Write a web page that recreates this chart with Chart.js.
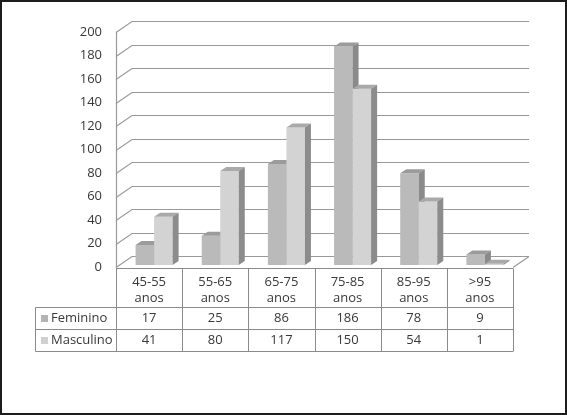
<!DOCTYPE html>
<html>
<head>
<meta charset="utf-8">
<script src="https://cdn.jsdelivr.net/npm/chart.js@4.4.1/dist/chart.umd.min.js"></script>
<style>
    html, body { margin: 0; padding: 0; background: #fff; }
    #frame { position: absolute; left: 0; top: 0; width: 567px; height: 415px; box-sizing: border-box; border: 2px solid #1c1c1c; pointer-events: none; }
    canvas { position: absolute; left: 0; top: 0; }
</style>
</head>
<body>
<canvas id="idade-chart" width="567" height="415"></canvas>
<div id="frame"></div>
<script>
const categorias = [
    ['45-55', 'anos'],
    ['55-65', 'anos'],
    ['65-75', 'anos'],
    ['75-85', 'anos'],
    ['85-95', 'anos'],
    ['>95', 'anos'],
];
const feminino = [17, 25, 86, 186, 78, 9];
const masculino = [41, 80, 117, 150, 54, 1];
const yTicks = [0, 20, 40, 60, 80, 100, 120, 140, 160, 180, 200];

const palette = {
    feminino: { front: '#bababa', top: '#9b9b9b', side: '#8a8a8a', key: '#b3b3b3' },
    masculino: { front: '#d3d3d3', top: '#a9a9a9', side: '#8c8c8c', key: '#d0d0d0' },
    grid: '#999999',
    table: '#8a8a8a',
    text: '#383838',
};

const font = "'Open Sans', 'DejaVu Sans', sans-serif";

// 3d offsets
const wall = { dx: 16, dy: -11 };
const barDepth = { dx: 6, dy: -4 };
const barShift = { x: 5, y: -2 };

function poly(ctx, pts, fill) {
    ctx.beginPath();
    ctx.moveTo(pts[0][0], pts[0][1]);
    for (let i = 1; i < pts.length; i++) ctx.lineTo(pts[i][0], pts[i][1]);
    ctx.closePath();
    ctx.fillStyle = fill;
    ctx.fill();
}

const depthPlugin = {
    id: 'depth3d',
    beforeDatasetsDraw(chart) {
        const { ctx, scales: { x, y } } = chart;
        ctx.save();

        // walls
        ctx.strokeStyle = palette.grid;
        ctx.lineWidth = 1.2;
        y.ticks.forEach((t) => {
            const py = Math.round(y.getPixelForValue(t.value)) + 0.5;
            ctx.beginPath();
            ctx.moveTo(x.left, py);
            ctx.lineTo(x.left + wall.dx, py + wall.dy);
            ctx.lineTo(x.right + wall.dx, py + wall.dy);
            ctx.stroke();
        });
        const floorY = Math.round(y.getPixelForValue(0)) + 0.5;
        ctx.beginPath();
        ctx.moveTo(x.right, floorY);
        ctx.lineTo(x.right + wall.dx, floorY + wall.dy);
        ctx.stroke();
        ctx.beginPath();
        ctx.moveTo(x.left + 0.5, y.getPixelForValue(200));
        ctx.lineTo(x.left + 0.5, floorY);
        ctx.stroke();

        // bars, category by category so the right bar hides the left side face
        const series = [palette.feminino, palette.masculino];
        ctx.translate(barShift.x, barShift.y);
        for (let i = 0; i < categorias.length; i++) {
            chart.data.datasets.forEach((ds, di) => {
                const bar = chart.getDatasetMeta(di).data[i];
                const { x: bx, y: by, base, width } = bar.getProps(['x', 'y', 'base', 'width'], true);
                const l = bx - width / 2;
                const r = bx + width / 2;
                const c = series[di];
                poly(ctx, [[l, base], [l, by], [r, by], [r, base]], c.front);
                poly(ctx, [[l, by], [l + barDepth.dx, by + barDepth.dy], [r + barDepth.dx, by + barDepth.dy], [r, by]], c.top);
                poly(ctx, [[r, by], [r + barDepth.dx, by + barDepth.dy], [r + barDepth.dx, base + barDepth.dy], [r, base]], c.side);
            });
        }
        ctx.restore();
        return false;
    },
    afterDraw(chart) {
        const { ctx, scales: { x, y } } = chart;
        const n = categorias.length;
        const colW = (x.right - x.left) / n;
        const top = Math.round(y.getPixelForValue(0)) + 1.5;
        const headBottom = 307.5;
        const row1Bottom = 329.5;
        const row2Bottom = 351.5;
        const legendLeft = 35.5;

        ctx.save();
        ctx.strokeStyle = palette.table;
        ctx.lineWidth = 1;
        ctx.beginPath();
        ctx.moveTo(x.left, top); ctx.lineTo(x.right, top);
        [headBottom, row1Bottom, row2Bottom].forEach((ry) => {
            ctx.moveTo(legendLeft, ry); ctx.lineTo(x.right, ry);
        });
        for (let k = 0; k <= n; k++) {
            const cx = Math.round(x.left + k * colW) + 0.5;
            ctx.moveTo(cx, top); ctx.lineTo(cx, row2Bottom);
        }
        ctx.moveTo(legendLeft, headBottom); ctx.lineTo(legendLeft, row2Bottom);
        ctx.stroke();

        ctx.fillStyle = palette.text;
        ctx.font = `13px ${font}`;
        ctx.textAlign = 'center';
        ctx.textBaseline = 'middle';
        const rows = [feminino, masculino];
        for (let k = 0; k < n; k++) {
            const cx = x.getPixelForValue(k);
            ctx.fillText(categorias[k][0], cx, 282.5);
            ctx.fillText(categorias[k][1], cx, 298.5);
            ctx.fillText(String(rows[0][k]), cx, 318.5);
            ctx.fillText(String(rows[1][k]), cx, 340.5);
        }

        const legend = [
            { label: 'Feminino', color: palette.feminino.key, cy: 318.5 },
            { label: 'Masculino', color: palette.masculino.key, cy: 340.5 },
        ];
        ctx.textAlign = 'left';
        legend.forEach((item) => {
            ctx.fillStyle = item.color;
            ctx.fillRect(41, Math.round(item.cy - 4), 7, 7);
            ctx.fillStyle = palette.text;
            ctx.fillText(item.label, 51, item.cy);
        });
        ctx.restore();
    },
};

new Chart(document.getElementById('idade-chart'), {
    type: 'bar',
    data: {
        labels: categorias,
        datasets: [
            { label: 'Feminino', data: feminino, backgroundColor: palette.feminino.front },
            { label: 'Masculino', data: masculino, backgroundColor: palette.masculino.front },
        ],
    },
    options: {
        responsive: false,
        animation: false,
        devicePixelRatio: 1,
        layout: { padding: { left: 0, top: 32, right: 54, bottom: 148 } },
        datasets: { bar: { categoryPercentage: 0.56, barPercentage: 1 } },
        plugins: { legend: { display: false }, tooltip: { enabled: false } },
        scales: {
            x: { display: false },
            y: {
                min: 0,
                max: 200,
                afterFit: (scale) => { scale.width = 116; },
                afterBuildTicks: (scale) => { scale.ticks = yTicks.map((v) => ({ value: v })); },
                grid: { display: false, drawTicks: false },
                border: { display: false },
                ticks: {
                    padding: 14,
                    color: palette.text,
                    font: { family: font, size: 13 },
                },
            },
        },
    },
    plugins: [depthPlugin],
});
</script>
</body>
</html>
